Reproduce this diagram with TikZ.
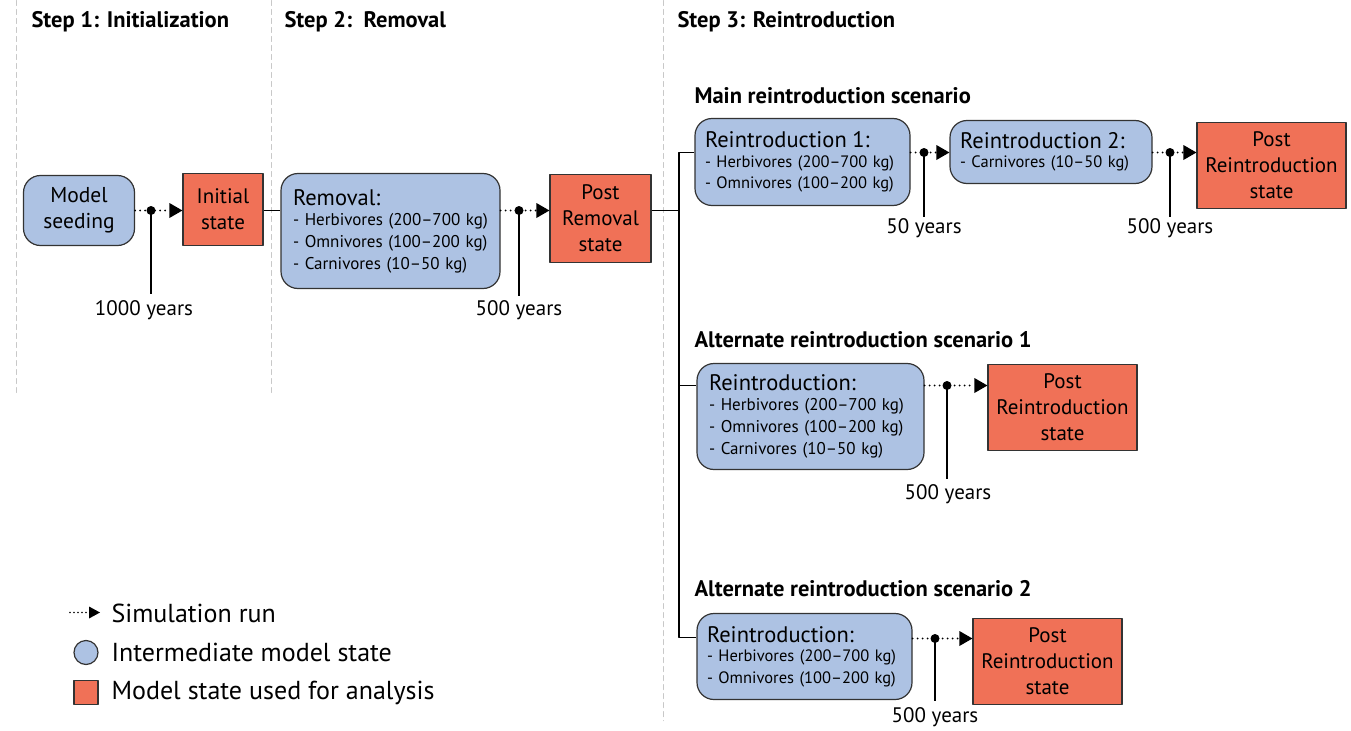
\documentclass[tikz,border=0pt]{standalone}
\usepackage{fontspec}
\setmainfont{PT Sans}
\usetikzlibrary{arrows.meta,positioning}
\definecolor{stateBlue}{HTML}{ADC2E3}
\definecolor{stateRed}{HTML}{F07157}
\definecolor{stateEdge}{HTML}{333333}
\definecolor{guideGray}{HTML}{C8C8C8}
\newcommand{\boxhead}[1]{{\fontsize{22.5}{25}\selectfont #1}\\[-2pt]}

\begin{document}
\begin{tikzpicture}[x=1pt,y=-1pt,>=Latex,line cap=round,line join=round]
\path[fill=white] (0,0) rectangle (1351,729);
\tikzset{midbox/.style={draw=stateEdge,fill=stateBlue,line width=1.2pt,rounded corners=17pt,inner sep=0pt},
  itembox/.style={midbox,inner xsep=12pt,align=left,font=\fontsize{17}{22}\selectfont},
  tightbox/.style={itembox,inner xsep=10pt,font=\fontsize{16.5}{21.5}\selectfont},
  endbox/.style={draw=stateEdge,fill=stateRed,line width=1.2pt,inner sep=0pt,align=center,font=\fontsize{21}{26}\selectfont,minimum width=149pt,minimum height=86pt},
  runline/.style={line width=2.2pt,dash pattern=on 0pt off 5pt,line cap=round,-{Triangle[length=13pt,width=15pt,line width=0pt]}},
  yearline/.style={line width=1.8pt,line cap=butt},
  wire/.style={line width=1.6pt,line cap=butt},
  guide/.style={draw=guideGray,line width=1pt,dash pattern=on 5pt off 4pt},
  stephead/.style={anchor=west,font=\bfseries\fontsize{22.5}{26}\selectfont},
  yearlabel/.style={font=\fontsize{21}{25}\selectfont},
  legendtext/.style={anchor=west,font=\fontsize{26}{30}\selectfont}}
% step separators
\draw[guide] (16,0) -- (16,395);
\draw[guide] (271,0) -- (271,395);
\draw[guide] (663,0) -- (663,720);
\node[stephead] (headA) at (28,21) {Step 1: Initialization};
\node[stephead] (headB) at (281,21) {Step 2:\ \ Removal};
\node[stephead] (headC) at (674,21) {Step 3: Reintroduction};
% step 1
\node[midbox,align=center,font=\fontsize{21.5}{26}\selectfont,minimum width=111pt,minimum height=70pt] (seed) at (79,210) {Model\\seeding};
\node[endbox,minimum width=80pt,minimum height=72pt] (init) at (223,209) {Initial\\state};
\coordinate (dotA) at (151,210);
\draw[runline] (dotA -| seed.east) -- (dotA -| init.west);
\fill (dotA) circle (4.5pt);
\draw[yearline] (dotA) -- (151,293);
\node[yearlabel] (yrA) at (144,310) {1000 years};
% step 2
\node[itembox,text width=195pt,minimum height=115pt] (removal) at (390.5,230.5) {\boxhead{Removal:}- Herbivores (200--700 kg)\\- Omnivores (100--200 kg)\\- Carnivores (10--50 kg)};
\node[endbox,minimum width=101pt,minimum height=88pt] (postrem) at (600.5,218) {Post\\Removal\\state};
\draw[wire] (dotA -| init.east) -- (dotA -| removal.west);
\coordinate (dotB) at (519,210);
\draw[runline] (dotB -| removal.east) -- (dotB -| postrem.west);
\fill (dotB) circle (4.5pt);
\draw[yearline] (dotB) -- (519,295);
\node[yearlabel] (yrB) at (519,310) {500 years};
% step 3
\coordinate (fork) at (679,210);
\coordinate (forkTop) at (679,152);
\coordinate (forkMid) at (679,385);
\coordinate (forkBot) at (679,637);
\node[stephead] (scMain) at (691,95) {Main reintroduction scenario};
\node[stephead] (scAltA) at (691,339) {Alternate reintroduction scenario 1};
\node[stephead] (scAltB) at (691,588) {Alternate reintroduction scenario 2};
\node[tightbox,text width=195pt,minimum height=87pt] (reintroA) at (802.5,161.5) {\boxhead{Reintroduction 1:}- Herbivores (200--700 kg)\\- Omnivores (100--200 kg)};
\node[tightbox,text width=182pt,minimum height=63pt] (reintroB) at (1051,151.5) {\boxhead{Reintroduction 2:}- Carnivores (10--50 kg)};
\node[endbox] (postA) at (1271.5,165) {Post\\Reintroduction\\state};
\node[itembox,text width=203pt,minimum height=106pt] (altA) at (810.5,416) {\boxhead{Reintroduction:}- Herbivores (200--700 kg)\\- Omnivores (100--200 kg)\\- Carnivores (10--50 kg)};
\node[endbox] (postB) at (1062.5,407) {Post\\Reintroduction\\state};
\node[tightbox,text width=195pt,minimum height=86pt] (altB) at (804.5,656) {\boxhead{Reintroduction:}- Herbivores (200--700 kg)\\- Omnivores (100--200 kg)};
\node[endbox] (postC) at (1047.5,661) {Post\\Reintroduction\\state};
\draw[wire] (fork -| postrem.east) -- (fork);
\draw[wire] (forkTop -| reintroA.west) -- (forkTop) -- (forkBot) -- (forkBot -| altB.west);
\draw[wire] (forkMid) -- (forkMid -| altA.west);
\coordinate (dotC) at (924,152);
\draw[runline] (dotC -| reintroA.east) -- (dotC -| reintroB.west);
\fill (dotC) circle (4.5pt);
\draw[yearline] (dotC) -- (924,216);
\node[yearlabel] (yrC) at (924,228) {50 years};
\coordinate (dotD) at (1170,152);
\draw[runline] (dotD -| reintroB.east) -- (dotD -| postA.west);
\fill (dotD) circle (4.5pt);
\draw[yearline] (dotD) -- (1170,216);
\node[yearlabel] (yrD) at (1170,228) {500 years};
\coordinate (dotE) at (947,385);
\draw[runline] (dotE -| altA.east) -- (dotE -| postB.west);
\fill (dotE) circle (4.5pt);
\draw[yearline] (dotE) -- (947,478);
\node[yearlabel] (yrE) at (948,494) {500 years};
\coordinate (dotF) at (935,638);
\draw[runline] (dotF -| altB.east) -- (dotF -| postC.west);
\fill (dotF) circle (4.5pt);
\draw[yearline] (dotF) -- (935,700);
\node[yearlabel] (yrF) at (935,717) {500 years};
% legend
\coordinate (keyRun) at (70,612);
\draw[runline,line width=1.8pt,dash pattern=on 0pt off 4pt,-{Triangle[length=11pt,width=12pt,line width=0pt]}] (keyRun) -- (100,612);
\node[legendtext] (keyRunText) at (108,613) {Simulation run};
\node[draw=stateEdge,fill=stateBlue,line width=1.2pt,circle,minimum size=24pt,inner sep=0pt] (keyMid) at (86,652) {};
\node[legendtext] (keyMidText) at (108,652) {Intermediate model state};
\node[draw=stateEdge,fill=stateRed,line width=1.2pt,minimum size=24pt,inner sep=0pt] (keyEnd) at (86,692) {};
\node[legendtext] (keyEndText) at (108,692) {Model state used for analysis};
\end{tikzpicture}
\end{document}
